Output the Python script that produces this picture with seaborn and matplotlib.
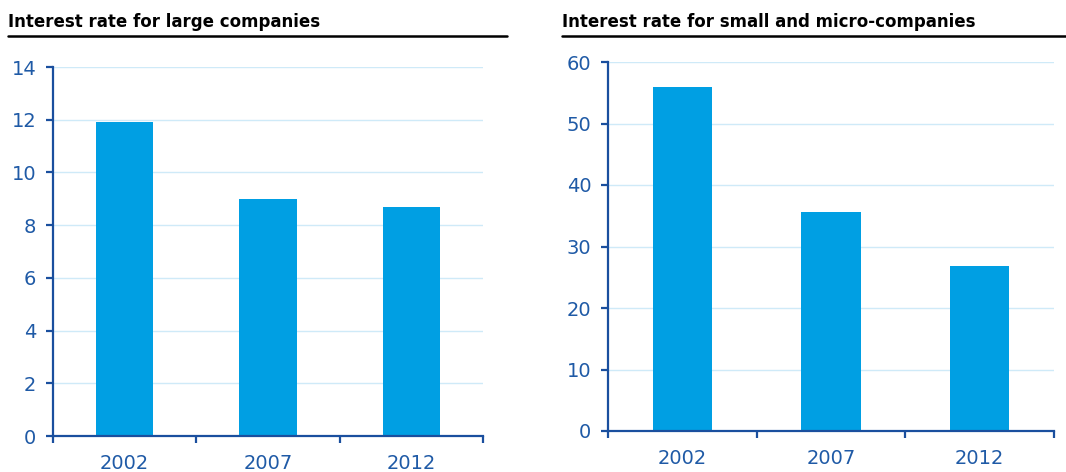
import matplotlib
matplotlib.use("Agg")
import matplotlib.pyplot as plt
import seaborn as sns
import pandas as pd
import numpy as np
from matplotlib.lines import Line2D

years = ["2002", "2007", "2012"]
large_rates = [11.9, 9.0, 8.7]
small_rates = [55.9, 35.6, 26.8]
titles = ["Interest rate for large companies", "Interest rate for small and micro-companies"]

sns.set_theme(style="white")
plt.rcParams['font.family'] = ['DejaVu Sans']

BAR = "#009fe3"
SPINE = "#1a4f9e"
TICK = "#1f5aa6"
GRID = "#cfeaf8"

fig = plt.figure(figsize=(10.66, 4.72), dpi=100)
axL = fig.add_axes([53/1066, 1-436/472, (483-53)/1066, (436-67)/472])
axR = fig.add_axes([608/1066, 1-431/472, (1054-608)/1066, (431-62)/472])

def style(ax, vals, ymax, step, title, tx, lx0, lx1):
    df = pd.DataFrame({"year": years, "rate": vals})
    sns.barplot(data=df, x="year", y="rate", ax=ax, color=BAR, width=0.4,
                saturation=1, edgecolor="none", linewidth=0, zorder=3)
    ax.set_xlim(-0.5, 2.5)
    ax.set_ylim(0, ymax)
    ax.set_yticks(np.arange(0, ymax + step/2, step))
    ax.set_xlabel("")
    ax.set_ylabel("")
    ax.grid(axis="y", color=GRID, linewidth=1, zorder=0)
    ax.grid(axis="x", visible=False)
    for s in ["top", "right"]:
        ax.spines[s].set_visible(False)
    for s in ["left", "bottom"]:
        ax.spines[s].set_color(SPINE)
        ax.spines[s].set_linewidth(1.6)
        ax.spines[s].set_zorder(4)
    ax.tick_params(axis="y", which="major", left=True, length=5, width=1.6,
                   color=SPINE, labelcolor=TICK, labelsize=14, pad=7)
    ax.tick_params(axis="x", which="major", bottom=False, labelcolor=TICK,
                   labelsize=14, pad=7)
    ax.set_xticks([-0.5, 0.5, 1.5, 2.5], minor=True)
    ax.tick_params(axis="x", which="minor", bottom=True, length=5, width=1.6,
                   color=SPINE, direction="out")
    fig.text(tx/1066, 1-27/472, title, fontsize=12, fontweight="bold",
             color="black", ha="left", va="baseline")
    fig.add_artist(Line2D([lx0/1066, lx1/1066], [1-36/472, 1-36/472],
                          color="black", linewidth=1.8, transform=fig.transFigure))

style(axL, large_rates, 14, 2, titles[0], 8, 8, 507)
style(axR, small_rates, 60, 10, titles[1], 562, 562, 1066)

fig.savefig("out.png", dpi=100)
